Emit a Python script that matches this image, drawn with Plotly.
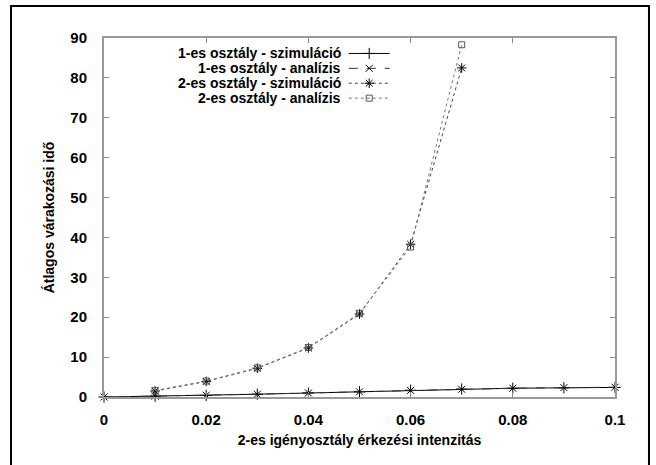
import plotly.graph_objects as go

# ---- data ----
x_c1 = [0, 0.01, 0.02, 0.03, 0.04, 0.05, 0.06, 0.07, 0.08, 0.09, 0.1]
sim_c1 = [0, 0.2, 0.4, 0.7, 1.0, 1.3, 1.7, 2.0, 2.2, 2.3, 2.4]
ana_c1 = [0, 0.2, 0.45, 0.7, 1.0, 1.3, 1.65, 1.95, 2.2, 2.35, 2.45]
x_c2 = [0.01, 0.02, 0.03, 0.04, 0.05, 0.06, 0.07]
sim_c2 = [1.5, 3.9, 7.2, 12.3, 20.8, 38.3, 82.5]
ana_c2 = [1.6, 4.0, 7.3, 12.4, 21.0, 37.6, 88.3]

names = ["1-es osztály - szimuláció", "1-es osztály - analízis",
         "2-es osztály - szimuláció", "2-es osztály - analízis"]
x_ticks = [0, 0.02, 0.04, 0.06, 0.08, 0.1]
x_ticklabels = ["0", "0.02", "0.04", "0.06", "0.08", "0.1"]
y_ticks = [0, 10, 20, 30, 40, 50, 60, 70, 80, 90]

styles = [
    dict(color="#000000", dash="solid", symbol="cross-thin", size=8, mcol="#000000"),
    dict(color="#333333", dash="dash", symbol="x-thin", size=7, mcol="#000000"),
    dict(color="#444444", dash="dot", symbol="asterisk", size=8, mcol="#000000"),
    dict(color="#777777", dash="dot", symbol="square-open", size=6, mcol="#555555"),
]
xs = [x_c1, x_c1, x_c2, x_c2]
ys = [sim_c1, ana_c1, sim_c2, ana_c2]

FONT = "Liberation Sans, Arial, sans-serif"
fig = go.Figure()
for xv, yv, st, nm in zip(xs, ys, styles, names):
    fig.add_trace(go.Scatter(
        x=xv, y=yv, mode="lines+markers", name=nm, showlegend=False,
        line=dict(color=st["color"], width=1, dash=st["dash"]),
        marker=dict(symbol=st["symbol"], size=st["size"], color=st["mcol"],
                    line=dict(width=1, color=st["mcol"])),
        cliponaxis=False,
    ))

# gnuplot-style legend: right-aligned text, sample on the right (overlay axes in paper fraction)
leg_y = [0.957, 0.9155, 0.874, 0.8325]
for i, (st, nm) in enumerate(zip(styles, names)):
    fig.add_trace(go.Scatter(
        x=[0.479, 0.559], y=[leg_y[i], leg_y[i]], xaxis="x2", yaxis="y2",
        mode="lines", showlegend=False, hoverinfo="skip",
        line=dict(color=st["color"], width=1, dash=st["dash"]),
    ))
    fig.add_trace(go.Scatter(
        x=[0.519], y=[leg_y[i]], xaxis="x2", yaxis="y2",
        mode="markers", showlegend=False, hoverinfo="skip",
        marker=dict(symbol=st["symbol"], size=st["size"], color=st["mcol"],
                    line=dict(width=1, color=st["mcol"])),
    ))
    fig.add_annotation(x=0.468, y=leg_y[i], xref="x2", yref="y2", text="<b>%s</b>" % nm,
                       showarrow=False, xanchor="right", yanchor="middle",
                       font=dict(family=FONT, size=14, color="#000000"))

axis_common = dict(showline=True, linecolor="#999999", linewidth=2, mirror="ticks",
                   ticks="inside", ticklen=5, tickwidth=1, tickcolor="#888888",
                   showgrid=False, zeroline=False,
                   tickfont=dict(family=FONT, size=15, color="#000000", weight="bold"))

fig.update_layout(
    width=656, height=465,
    margin=dict(l=104, r=41, t=38, b=68),
    paper_bgcolor="white", plot_bgcolor="white",
    xaxis=dict(range=[0, 0.1], tickvals=x_ticks, ticktext=x_ticklabels,
               title=dict(text="<b>2-es igényosztály érkezési intenzitás</b>", standoff=8,
                          font=dict(family=FONT, size=14, color="#000000")),
               ticklabelstandoff=8, **axis_common),
    yaxis=dict(range=[0, 90], tickvals=y_ticks,
               title=dict(text="<b>Átlagos várakozási idő</b>", standoff=12,
                          font=dict(family=FONT, size=14, color="#000000")),
               ticklabelstandoff=12, **axis_common),
    xaxis2=dict(range=[0, 1], overlaying="x", visible=False, fixedrange=True),
    yaxis2=dict(range=[0, 1], overlaying="y", visible=False, fixedrange=True),
    shapes=[dict(type="rect", xref="paper", yref="paper",
                 x0=-0.182, x1=1.0665, y0=-0.25, y1=1.089,
                 line=dict(color="#000000", width=2), fillcolor="rgba(0,0,0,0)", layer="below")],
)

fig.write_html("out.html", config={"displayModeBar": False},
               post_script="document.body.style.margin='0';")
